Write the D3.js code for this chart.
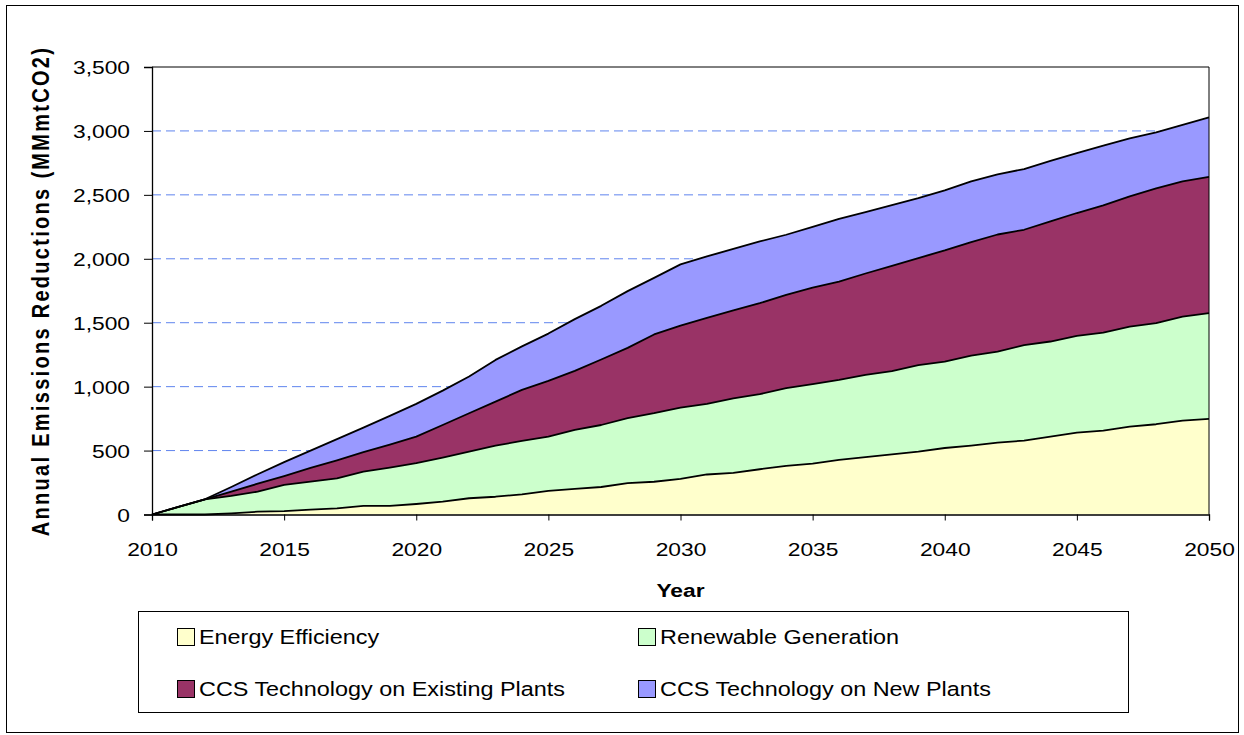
<!DOCTYPE html>
<html>
<head>
<meta charset="utf-8">
<script src="https://cdn.jsdelivr.net/npm/d3@7/dist/d3.min.js"></script>
<style>
  html, body { margin: 0; padding: 0; background: #ffffff; }
  svg { display: block; }
  text { font-family: "Liberation Sans", Arial, sans-serif; fill: #000; }
</style>
</head>
<body>
<svg id="chart" width="1244" height="735"></svg>
<script>
// Annual emissions reductions by measure, MMmtCO2
const years = [2010, 2011, 2012, 2013, 2014, 2015, 2016, 2017, 2018, 2019,
               2020, 2021, 2022, 2023, 2024, 2025, 2026, 2027, 2028, 2029,
               2030, 2031, 2032, 2033, 2034, 2035, 2036, 2037, 2038, 2039,
               2040, 2041, 2042, 2043, 2044, 2045, 2046, 2047, 2048, 2049, 2050];

const energyEfficiency = [0, 0, 0, 9, 22, 27, 38, 48, 67, 67,
                          82, 100, 127, 139, 158, 185, 200, 215, 245, 256,
                          278, 313, 325, 354, 380, 398, 427, 448, 471, 492,
                          520, 539, 562, 578, 609, 640, 656, 687, 706, 734, 748];

const renewableGeneration = [0, 59, 119, 136, 157, 204, 219, 235, 268, 300,
                             319, 345, 365, 400, 417, 424, 461, 485, 508, 536,
                             558, 553, 584, 587, 608, 621, 626, 644, 651, 677,
                             676, 704, 712, 746, 744, 757, 767, 783, 791, 814, 827];

const ccsExisting = [0, 0, 0, 34, 62, 70, 107, 141, 152, 180,
                     208, 255, 300, 344, 400, 436, 462, 512, 550, 616,
                     642, 672, 687, 712, 730, 756, 769, 793, 823, 837,
                     869, 888, 916, 903, 939, 961, 994, 1018, 1053, 1057, 1065];

const ccsNew = [0, 0, 0, 36, 74, 109, 136, 165, 193, 224,
                256, 269, 287, 326, 340, 370, 405, 420, 444, 443,
                478, 480, 482, 483, 470, 475, 491, 480, 475, 469,
                470, 474, 470, 475, 473, 469, 468, 454, 439, 442, 466];

const seriesNames = ["Energy Efficiency", "Renewable Generation",
                     "CCS Technology on Existing Plants", "CCS Technology on New Plants"];
const seriesColors = ["#FFFFCC", "#CCFFCC", "#993366", "#9999FF"];

const yTicks = [0, 500, 1000, 1500, 2000, 2500, 3000, 3500];
const xTicks = [2010, 2015, 2020, 2025, 2030, 2035, 2040, 2045, 2050];

const rows = years.map((yr, i) => ({
  year: yr,
  s0: energyEfficiency[i],
  s1: renewableGeneration[i],
  s2: ccsExisting[i],
  s3: ccsNew[i]
}));
const keys = ["s0", "s1", "s2", "s3"];

const svg = d3.select("#chart");
const W = 1244, H = 735;
const plot = { left: 152, right: 1209, top: 67, bottom: 514.5 };
const sx = 1.2; // wide text rendering

// outer frame
svg.append("rect")
  .attr("x", 6.5).attr("y", 5.5)
  .attr("width", 1232).attr("height", 727)
  .attr("fill", "#fff").attr("stroke", "#000").attr("stroke-width", 1);

const x = d3.scaleLinear().domain([2010, 2050]).range([plot.left, plot.right]);
const y = d3.scaleLinear().domain([0, 3500]).range([plot.bottom, plot.top]);

// dashed gridlines
svg.append("g")
  .selectAll("line")
  .data(yTicks.filter(v => v > 0 && v < 3500))
  .join("line")
  .attr("x1", plot.left).attr("x2", plot.right)
  .attr("y1", d => y(d)).attr("y2", d => y(d))
  .attr("stroke", "#5f84ee").attr("stroke-width", 1)
  .attr("stroke-dasharray", "9,5");

// stacked areas
const stacked = d3.stack().keys(keys)(rows);
const area = d3.area()
  .x(d => x(d.data.year))
  .y0(d => y(d[0]))
  .y1(d => y(d[1]));
const topLine = d3.line()
  .x(d => x(d.data.year))
  .y(d => y(d[1]));

const layers = svg.append("g");
layers.selectAll("path.area")
  .data(stacked)
  .join("path")
  .attr("class", "area")
  .attr("d", area)
  .attr("fill", (d, i) => seriesColors[i]);
layers.selectAll("path.edge")
  .data(stacked)
  .join("path")
  .attr("class", "edge")
  .attr("d", topLine)
  .attr("fill", "none")
  .attr("stroke", "#000")
  .attr("stroke-width", 1.8)
  .attr("stroke-linejoin", "round");

// plot frame (top and right)
svg.append("path")
  .attr("d", `M${plot.left},${plot.top}H${plot.right}V${plot.bottom}`)
  .attr("fill", "none").attr("stroke", "#000").attr("stroke-width", 1);

// y axis
const yAxis = d3.axisLeft(y).tickValues(yTicks).tickSize(8).tickPadding(0)
  .tickFormat(d3.format(","));
const gy = svg.append("g").attr("transform", `translate(${plot.left},0)`).call(yAxis);
gy.select(".domain").attr("stroke", "#000").attr("stroke-width", 1.3);
gy.selectAll(".tick line").attr("stroke", "#000");
gy.selectAll(".tick text")
  .attr("font-size", 19)
  .attr("font-family", "'Liberation Sans', Arial, sans-serif")
  .attr("x", -22 / sx)
  .attr("dy", "0.36em")
  .attr("transform", `scale(${sx},1)`);

// x axis
const xAxis = d3.axisBottom(x).tickValues(xTicks).tickSize(6).tickPadding(0)
  .tickFormat(d3.format("d"));
const gx = svg.append("g").attr("transform", `translate(0,${plot.bottom})`).call(xAxis);
gx.select(".domain").attr("stroke", "#000").attr("stroke-width", 1.3);
gx.selectAll(".tick line").attr("stroke", "#000");
gx.selectAll(".tick text")
  .attr("font-size", 19)
  .attr("font-family", "'Liberation Sans', Arial, sans-serif")
  .attr("y", 42)
  .attr("dy", 0)
  .attr("transform", `scale(${sx},1)`);

// axis titles
svg.append("text")
  .attr("transform", `translate(${(plot.left + plot.right) / 2},597) scale(${sx},1)`)
  .attr("text-anchor", "middle")
  .attr("font-size", 19).attr("font-weight", "bold")
  .text("Year");

svg.append("text")
  .attr("transform", `translate(49,291) rotate(-90) scale(1,${sx})`)
  .attr("text-anchor", "middle")
  .attr("font-size", 20).attr("font-weight", "bold")
  .attr("letter-spacing", 2.3)
  .text("Annual Emissions Reductions (MMmtCO2)");

// legend
const legend = svg.append("g");
legend.append("rect")
  .attr("x", 138.5).attr("y", 611.5)
  .attr("width", 990).attr("height", 101)
  .attr("fill", "#fff").attr("stroke", "#000").attr("stroke-width", 1);

const legendPos = [
  { sx: 177, sy: 628 }, { sx: 638, sy: 628 },
  { sx: 177, sy: 680 }, { sx: 638, sy: 680 }
];
const items = legend.selectAll("g.item")
  .data(seriesNames)
  .join("g")
  .attr("class", "item")
  .attr("transform", (d, i) => `translate(${legendPos[i].sx},${legendPos[i].sy})`);
items.append("rect")
  .attr("x", 0.5).attr("y", 0.5)
  .attr("width", 17).attr("height", 17)
  .attr("fill", (d, i) => seriesColors[i])
  .attr("stroke", "#000").attr("stroke-width", 1);
items.append("text")
  .attr("transform", `translate(22,16) scale(${sx},1)`)
  .attr("font-size", 19.5)
  .text(d => d);
</script>
</body>
</html>
